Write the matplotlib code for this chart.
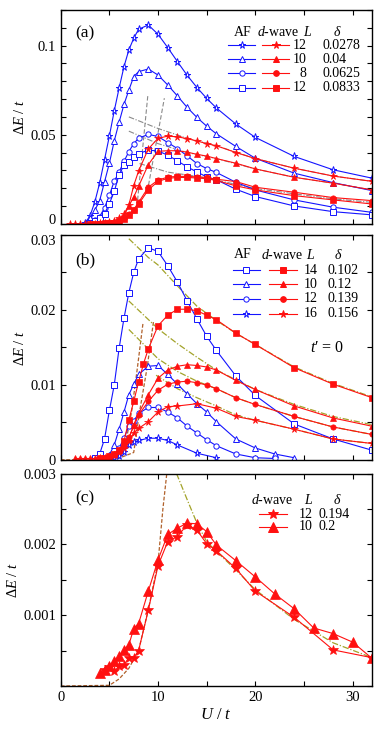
import numpy as np
import matplotlib
matplotlib.use("Agg")
import matplotlib.pyplot as plt
from matplotlib.ticker import MultipleLocator, FixedLocator, FuncFormatter

plt.rcParams['font.family'] = ['Liberation Serif', 'DejaVu Serif']
plt.rcParams['font.size'] = 10
plt.rcParams['mathtext.fontset'] = 'custom'
plt.rcParams['mathtext.rm'] = 'Liberation Serif'
plt.rcParams['mathtext.it'] = 'Liberation Serif:italic'
plt.rcParams['mathtext.bf'] = 'Liberation Serif:bold'

BLUE = '#1414ff'
RED = '#ff1010'
GRAY = '#8a8a8a'
OLIVE = '#a3a32a'
BROWN = '#b0602a'

# ---------------- panel (a) ----------------
a_af_star_U = [2.5, 3, 3.5, 4, 4.5, 5, 5.5, 6, 6.5, 7, 7.5, 8, 9, 10, 11, 12, 13, 14, 15, 16, 18, 20, 24, 28, 32]
a_af_star = [0.0005, 0.0043, 0.0122, 0.0229, 0.036, 0.0493, 0.0634, 0.0762, 0.0882, 0.0976, 0.1041, 0.1092, 0.1116,
             0.1064, 0.0989, 0.091, 0.0833, 0.0765, 0.0704, 0.065, 0.056, 0.0485, 0.0378, 0.0303, 0.0256]
a_af_tri_U = [2.5, 3, 3.5, 4, 4.5, 5, 5.5, 6, 6.5, 7, 7.5, 8, 9, 10, 11, 12, 13, 14, 15, 16, 18, 20, 24, 28, 32]
a_af_tri = [0.0003, 0.003, 0.0075, 0.013, 0.0235, 0.034, 0.0465, 0.057, 0.067, 0.075, 0.0826, 0.0854, 0.0869,
            0.0835, 0.0779, 0.0717, 0.0653, 0.0597, 0.0548, 0.0505, 0.0434, 0.0368, 0.0284, 0.0231, 0.0186]
a_af_cir_U = [3, 3.5, 4, 4.5, 5, 5.5, 6, 6.5, 7, 7.5, 8, 9, 10, 11, 12, 13, 14, 15, 16, 18, 20, 24, 28, 32]
a_af_cir = [0.0005, 0.002, 0.004, 0.009, 0.016, 0.024, 0.029, 0.035, 0.0405, 0.045, 0.048, 0.0502, 0.049,
            0.0456, 0.0422, 0.0381, 0.0338, 0.031, 0.0288, 0.0233, 0.019, 0.0134, 0.0093, 0.0064]
a_af_sq_U = [3, 3.5, 4, 4.5, 5, 5.5, 6, 6.5, 7, 7.5, 8, 9, 10, 11, 12, 13, 14, 15, 16, 18, 20, 24, 28, 32]
a_af_sq = [0.0003, 0.0015, 0.0035, 0.0056, 0.0113, 0.0182, 0.0276, 0.0328, 0.0345, 0.0375, 0.0394, 0.0413, 0.0409,
           0.0385, 0.0353, 0.0319, 0.0291, 0.0263, 0.0247, 0.0194, 0.0153, 0.01, 0.0068, 0.005]

a_dw_star_U = [1, 1.5, 2, 2.5, 3, 3.5, 4, 4.5, 5, 5.5, 6, 6.5, 7, 7.5, 8, 9, 10, 11, 12, 13, 14, 15, 16, 18, 20, 24, 28, 32]
a_dw_star = [0, 0, 0, 0, 0, 0.0001, 0.0002, 0.0004, 0.0008, 0.0015, 0.003, 0.0055, 0.0105, 0.0214, 0.0296, 0.042,
             0.048, 0.0492, 0.0488, 0.0478, 0.0465, 0.045, 0.0438, 0.040, 0.0366, 0.0312, 0.0268, 0.0238]
a_dw_tri_U = [3, 3.5, 4, 4.5, 5, 5.5, 6, 6.5, 7, 7.5, 8, 9, 10, 11, 12, 13, 14, 15, 16, 18, 20, 24, 28, 32]
a_dw_tri = [0, 0, 0.0001, 0.0003, 0.0006, 0.0012, 0.0025, 0.0045, 0.010, 0.015, 0.021, 0.0332, 0.0407, 0.041,
            0.041, 0.0402, 0.039, 0.038, 0.0366, 0.034, 0.0308, 0.0261, 0.0228, 0.019]
a_dw_cir_U = [3, 3.5, 4, 4.5, 5, 5.5, 6, 6.5, 7, 7.5, 8, 9, 10, 11, 12, 13, 14, 15, 16, 18, 20, 24, 28, 32]
a_dw_cir = [0, 0, 0.0001, 0.0002, 0.0004, 0.0008, 0.0015, 0.003, 0.0055, 0.008, 0.012, 0.0205, 0.0245, 0.0262,
            0.0266, 0.0266, 0.0263, 0.026, 0.025, 0.0237, 0.0205, 0.0177, 0.0147, 0.013]
a_dw_sq_U = [3, 3.5, 4, 4.5, 5, 5.5, 6, 6.5, 7, 7.5, 8, 9, 10, 11, 12, 13, 14, 15, 16, 18, 20, 24, 28, 32]
a_dw_sq = [0, 0, 0.0001, 0.0002, 0.0004, 0.0007, 0.0013, 0.0027, 0.005, 0.0075, 0.011, 0.019, 0.0238, 0.0255,
           0.026, 0.026, 0.0257, 0.0253, 0.0243, 0.0213, 0.019, 0.0158, 0.0134, 0.0111]

a_dash1_U = [7.9, 8.95]
a_dash1 = [0.0133, 0.072]
a_dash2_U = [8.9, 10.65]
a_dash2 = [0.018, 0.0705]
a_dd1_U = [7, 10, 13, 16, 20, 24, 28, 32]
a_dd1 = [0.060, 0.0535, 0.048, 0.0438, 0.0366, 0.0312, 0.0268, 0.0238]
a_dd2_U = [7, 10, 13, 16, 20, 24, 28, 32]
a_dd2 = [0.052, 0.045, 0.040, 0.0366, 0.0308, 0.0261, 0.0228, 0.019]
a_dd3_U = [8.1, 11, 14, 16, 20, 24, 28, 32]
a_dd3 = [0.0338, 0.029, 0.0266, 0.0245, 0.0198, 0.0168, 0.014, 0.012]

a_L = ['12', '10', '8', '12']
a_delta = ['0.0278', '0.04', '0.0625', '0.0833']

# ---------------- panel (b) ----------------
b_af_sq_U = [3.5, 4, 4.5, 5, 5.5, 6, 6.5, 7, 7.5, 8, 9, 10, 11, 12, 13, 14, 15, 16, 18, 20, 24, 28, 32]
b_af_sq = [0.0002, 0.0008, 0.0028, 0.0066, 0.0100, 0.0149, 0.0189, 0.0223, 0.025, 0.0268, 0.0283, 0.0278, 0.0259,
           0.0237, 0.0212, 0.0188, 0.0165, 0.0146, 0.0112, 0.0086, 0.0048, 0.0028, 0.0013]
b_af_tri_U = [4.5, 5, 5.5, 6, 6.5, 7, 7.5, 8, 9, 10, 11, 12, 13, 14, 15, 16, 18, 20, 22, 24]
b_af_tri = [0.0002, 0.0007, 0.002, 0.0041, 0.0064, 0.0087, 0.0101, 0.0114, 0.0125, 0.0126, 0.0114, 0.0101,
            0.0088, 0.0075, 0.0064, 0.0051, 0.0028, 0.0016, 0.0008, 0.0003]
b_af_cir_U = [5, 5.5, 6, 6.5, 7, 7.5, 8, 9, 10, 11, 12, 13, 14, 15, 16, 18, 20, 22]
b_af_cir = [0.0002, 0.0007, 0.0016, 0.0029, 0.0045, 0.0052, 0.0062, 0.007, 0.007, 0.0064, 0.0056, 0.0045,
            0.0036, 0.0027, 0.0019, 0.0008, 0.0003, 0.0002]
b_af_star_U = [5.5, 6, 6.5, 7, 7.5, 8, 9, 10, 11, 12, 14, 16]
b_af_star = [0.0002, 0.0005, 0.0011, 0.002, 0.0024, 0.0026, 0.0029, 0.0029, 0.0026, 0.0020, 0.0009, 0.0003]

b_dw_sq_U = [4, 4.5, 5, 5.5, 6, 6.5, 7, 7.5, 8, 8.5, 9, 10, 11, 12, 13, 14, 15, 16, 18, 20, 24, 28, 32]
b_dw_sq = [0.0002, 0.0003, 0.0005, 0.0008, 0.0013, 0.0025, 0.0053, 0.0078, 0.0104, 0.0128, 0.0148, 0.0179,
           0.0193, 0.0201, 0.0201, 0.0199, 0.0193, 0.0187, 0.0169, 0.0154, 0.0123, 0.0101, 0.0083]
b_dw_tri_U = [1.5, 2, 2.5, 3, 3.5, 4, 4.5, 5, 5.5, 6, 6.5, 7, 7.5, 8, 9, 10, 11, 12, 13, 14, 15, 16, 18, 20, 24, 28, 32]
b_dw_tri = [0.0002, 0.0002, 0.0002, 0.0002, 0.0002, 0.0002, 0.0003, 0.0005, 0.0008, 0.0013, 0.002, 0.0028,
            0.0047, 0.0062, 0.0087, 0.0109, 0.012, 0.0125, 0.0127, 0.0126, 0.0124, 0.012, 0.0106, 0.0094,
            0.0072, 0.0056, 0.0045]
b_dw_cir_U = [4, 4.5, 5, 5.5, 6, 6.5, 7, 7.5, 8, 9, 10, 11, 12, 13, 14, 15, 16, 18, 20, 24, 28, 32]
b_dw_cir = [0.0002, 0.0003, 0.0004, 0.0007, 0.0012, 0.002, 0.003, 0.0045, 0.006, 0.0078, 0.0093, 0.0101,
            0.0104, 0.0105, 0.0103, 0.01, 0.0095, 0.0083, 0.0074, 0.0058, 0.0044, 0.0034]
b_dw_star_U = [4, 4.5, 5, 5.5, 6, 6.5, 7, 7.5, 8, 9, 10, 11, 12, 14, 16, 18, 20, 24, 28, 32]
b_dw_star = [0.0002, 0.0003, 0.0004, 0.0006, 0.001, 0.0016, 0.0025, 0.0036, 0.0042, 0.0051, 0.0064, 0.0071,
             0.0072, 0.0075, 0.0069, 0.0058, 0.0053, 0.0041, 0.0028, 0.0022]

b_dash1_U = [0, 5, 6.5, 7.3, 7.9, 8.45]
b_dash1 = [0, 0, 0.001, 0.0066, 0.0125, 0.0182]
b_dash2_U = [0, 5.5, 7.5, 8.1, 8.9, 9.55]
b_dash2 = [0, 0, 0.001, 0.0064, 0.0125, 0.0186]
b_dd1_U = [7, 9, 10, 12, 14, 16, 18, 20, 24, 28, 32]
b_dd1 = [0.0295, 0.027, 0.026, 0.0232, 0.0205, 0.0186, 0.0169, 0.0154, 0.0124, 0.0102, 0.0084]
b_dd2_U = [7, 10, 12, 14, 16, 18, 20, 24, 28, 32]
b_dd2 = [0.0212, 0.0175, 0.0155, 0.0137, 0.012, 0.0107, 0.0094, 0.0074, 0.0058, 0.0047]
b_dd3_U = [7, 10, 12, 14, 16, 18, 20, 24, 28, 32]
b_dd3 = [0.0174, 0.0135, 0.0118, 0.0105, 0.0095, 0.0083, 0.0074, 0.0058, 0.0044, 0.0034]
b_dd4_U = [9.8, 12, 14, 16, 18, 20, 24, 28, 32]
b_dd4 = [0.0113, 0.0095, 0.0083, 0.0072, 0.006, 0.0053, 0.0041, 0.0028, 0.0022]

b_L = ['14', '10', '12', '16']
b_delta = ['0.102', '0.12', '0.139', '0.156']

# ---------------- panel (c) ----------------
c_dw_star_U = [4.5, 5, 5.5, 6, 6.5, 7, 7.5, 8, 9, 10, 11, 12, 13, 14, 15, 16, 18, 20, 24, 28, 32]
c_dw_star = [0.00022, 0.00027, 0.00021, 0.00028, 0.0003, 0.0004, 0.0004, 0.0005, 0.00107, 0.0017, 0.00204,
             0.00211, 0.00228, 0.0022, 0.00201, 0.00191, 0.00166, 0.00134, 0.00097, 0.00051, 0.0004]
c_dw_tri_U = [4, 4.5, 5, 5.5, 6, 6.5, 7, 7.5, 8, 9, 10, 11, 12, 13, 14, 15, 16, 18, 20, 22, 24, 26, 28, 30, 32]
c_dw_tri = [0.00019, 0.00023, 0.00028, 0.00036, 0.00042, 0.00051, 0.00058, 0.00081, 0.00088, 0.00134, 0.00178,
            0.00214, 0.00223, 0.0023, 0.00229, 0.00218, 0.00199, 0.00177, 0.00154, 0.0013, 0.00109, 0.00082,
            0.00074, 0.00062, 0.00039]

c_dash_U = [0, 5, 6, 7, 8, 9, 10, 10.5, 10.9]
c_dash = [0, 0.00001, 0.0001, 0.00025, 0.0005, 0.00108, 0.00174, 0.0025, 0.003]
c_dd_U = [11.9, 13, 14, 15, 16, 18, 20, 24, 28, 32]
c_dd = [0.003, 0.00263, 0.0023, 0.00204, 0.0019, 0.00164, 0.00136, 0.00094, 0.00061, 0.0004]

c_L = ['12', '10']
c_delta = ['0.194', '0.2']


def af(ax, U, v, m, ms=4.2):
    ax.plot(U, v, color=BLUE, lw=0.8, marker=m, ms=ms, mfc='white', mec=BLUE, mew=0.7)


def dw(ax, U, v, m, ms=4.2):
    ax.plot(U, v, color=RED, lw=0.8, marker=m, ms=ms, mfc=RED, mec=RED, mew=0.5)


def legend_row(ax, x0, x1, y, color, m, ms, fill):
    ax.plot([x0, (x0 + x1) / 2, x1], [y, y, y], transform=ax.transAxes, color=color, lw=0.8,
            marker=m, ms=ms, markevery=[1], mfc=fill, mec=color, mew=0.7, clip_on=False)


def style(ax, ylim, ymaj, ymin, fmt, bottom_labels=False):
    ax.set_xlim(0, 32)
    ax.set_ylim(*ylim)
    ax.xaxis.set_major_locator(MultipleLocator(10))
    ax.xaxis.set_minor_locator(MultipleLocator(5))
    ax.yaxis.set_major_locator(FixedLocator(ymaj))
    ax.yaxis.set_minor_locator(MultipleLocator(ymin))
    ax.yaxis.set_major_formatter(FuncFormatter(fmt))
    ax.tick_params(which='both', direction='in', top=True, right=True, length=3.5, width=0.8, labelsize=10.5)
    if not bottom_labels:
        ax.tick_params(labelbottom=False)
    for s in ax.spines.values():
        s.set_linewidth(1.0)
    ax.set_ylabel(r'$\Delta E$ / $t$', fontsize=10.5, labelpad=2)


fig = plt.figure(figsize=(3.82, 7.32), dpi=100)
L0, W = 0.159, 0.815

# (a)
ax = fig.add_axes([L0, 0.6943, W, 0.292])
for U, v in [(a_dash1_U, a_dash1), (a_dash2_U, a_dash2)]:
    ax.plot(U, v, color=GRAY, lw=0.8, ls=(0, (4, 2)))
for U, v in [(a_dd1_U, a_dd1), (a_dd2_U, a_dd2), (a_dd3_U, a_dd3)]:
    ax.plot(U, v, color=GRAY, lw=0.8, ls=(0, (5, 1.5, 1, 1.5)))
af(ax, a_af_star_U, a_af_star, '*', 5.2)
af(ax, a_af_tri_U, a_af_tri, '^')
af(ax, a_af_cir_U, a_af_cir, 'o', 3.8)
af(ax, a_af_sq_U, a_af_sq, 's', 3.8)
dw(ax, a_dw_star_U, a_dw_star, '*', 5.5)
dw(ax, a_dw_tri_U, a_dw_tri, '^', 4.2)
dw(ax, a_dw_cir_U, a_dw_cir, 'o', 3.8)
dw(ax, a_dw_sq_U, a_dw_sq, 's', 3.8)
style(ax, (0, 0.12), [0, 0.05, 0.1], 0.01, lambda v, p: '0' if v == 0 else ('%g' % v))
ax.get_yticklabels()[0].set_verticalalignment('baseline')
ax.text(0.078, 0.893, '(a)', transform=ax.transAxes, ha='center', va='center', fontsize=12.5)
ax.text(0.586, 0.896, 'AF', transform=ax.transAxes, ha='center', va='center')
ax.text(0.698, 0.896, '$d$-wave', transform=ax.transAxes, ha='center', va='center')
ax.text(0.793, 0.896, '$L$', transform=ax.transAxes, ha='center', va='center')
ax.text(0.887, 0.896, r'$\delta$', transform=ax.transAxes, ha='center', va='center')
rows = [0.836, 0.769, 0.704, 0.637]
for i, (m, ms) in enumerate([('*', 5.2), ('^', 4.2), ('o', 3.8), ('s', 3.8)]):
    legend_row(ax, 0.538, 0.624, rows[i], BLUE, m, ms, 'white')
    legend_row(ax, 0.646, 0.734, rows[i], RED, m, ms + 0.3, RED)
    ax.text(0.790, rows[i], a_L[i], transform=ax.transAxes, ha='right', va='center')
    ax.text(0.842, rows[i], a_delta[i], transform=ax.transAxes, ha='left', va='center')

# (b)
ax = fig.add_axes([L0, 0.3716, W, 0.3074])
for U, v in [(b_dash1_U, b_dash1), (b_dash2_U, b_dash2)]:
    ax.plot(U, v, color=BROWN, lw=0.9, ls=(0, (3, 1.5)))
for U, v in [(b_dd1_U, b_dd1), (b_dd2_U, b_dd2), (b_dd3_U, b_dd3), (b_dd4_U, b_dd4)]:
    ax.plot(U, v, color=OLIVE, lw=0.9, ls=(0, (5, 1.5, 1, 1.5)))
af(ax, b_af_sq_U, b_af_sq, 's', 3.8)
af(ax, b_af_tri_U, b_af_tri, '^')
af(ax, b_af_cir_U, b_af_cir, 'o', 3.8)
af(ax, b_af_star_U, b_af_star, '*', 5.2)
dw(ax, b_dw_sq_U, b_dw_sq, 's', 3.8)
dw(ax, b_dw_tri_U, b_dw_tri, '^', 4.2)
dw(ax, b_dw_cir_U, b_dw_cir, 'o', 3.8)
dw(ax, b_dw_star_U, b_dw_star, '*', 5.5)
style(ax, (0, 0.03), [0, 0.01, 0.02, 0.03], 0.005, lambda v, p: '0' if v == 0 else ('%g' % v))
ax.get_yticklabels()[-1].set_verticalalignment('top')
ax.text(0.078, 0.889, '(b)', transform=ax.transAxes, ha='center', va='center', fontsize=12.5)
ax.text(0.585, 0.911, 'AF', transform=ax.transAxes, ha='center', va='center')
ax.text(0.710, 0.911, '$d$-wave', transform=ax.transAxes, ha='center', va='center')
ax.text(0.801, 0.911, '$L$', transform=ax.transAxes, ha='center', va='center')
ax.text(0.891, 0.911, r'$\delta$', transform=ax.transAxes, ha='center', va='center')
rows = [0.844, 0.780, 0.716, 0.651]
for i, (m, ms) in enumerate([('s', 3.8), ('^', 4.2), ('o', 3.8), ('*', 5.2)]):
    legend_row(ax, 0.553, 0.640, rows[i], BLUE, m, ms, 'white')
    legend_row(ax, 0.670, 0.760, rows[i], RED, m, ms + 0.3, RED)
    ax.text(0.824, rows[i], b_L[i], transform=ax.transAxes, ha='right', va='center')
    ax.text(0.858, rows[i], b_delta[i], transform=ax.transAxes, ha='left', va='center')
ax.text(0.855, 0.498, "$t$\u2032 = 0", transform=ax.transAxes, ha='center', va='center', fontsize=11.5)

# (c)
ax = fig.add_axes([L0, 0.0628, W, 0.2903])
ax.plot(c_dash_U, c_dash, color=BROWN, lw=0.9, ls=(0, (3, 1.5)))
ax.plot(c_dd_U, c_dd, color=OLIVE, lw=0.9, ls=(0, (5, 1.5, 1, 1.5)))
dw(ax, c_dw_star_U, c_dw_star, '*', 7.5)
dw(ax, c_dw_tri_U, c_dw_tri, '^', 7)
style(ax, (0, 0.003), [0.001, 0.002, 0.003], 0.0005, lambda v, p: '%g' % v, bottom_labels=True)
ax.xaxis.set_major_formatter(FuncFormatter(lambda v, p: '%d' % v))
ax.set_xlabel('$U$ / $t$', fontsize=12, labelpad=2)
ax.text(0.078, 0.885, '(c)', transform=ax.transAxes, ha='center', va='center', fontsize=12.5)
ax.text(0.680, 0.875, '$d$-wave', transform=ax.transAxes, ha='center', va='center')
ax.text(0.795, 0.875, '$L$', transform=ax.transAxes, ha='center', va='center')
ax.text(0.887, 0.875, r'$\delta$', transform=ax.transAxes, ha='center', va='center')
rows = [0.808, 0.750]
for i, (m, ms) in enumerate([('*', 7.5), ('^', 7)]):
    legend_row(ax, 0.638, 0.726, rows[i], RED, m, ms, RED)
    ax.text(0.808, rows[i], c_L[i], transform=ax.transAxes, ha='right', va='center')
    ax.text(0.827, rows[i], c_delta[i], transform=ax.transAxes, ha='left', va='center')

fig.savefig('out.png', dpi=100)
